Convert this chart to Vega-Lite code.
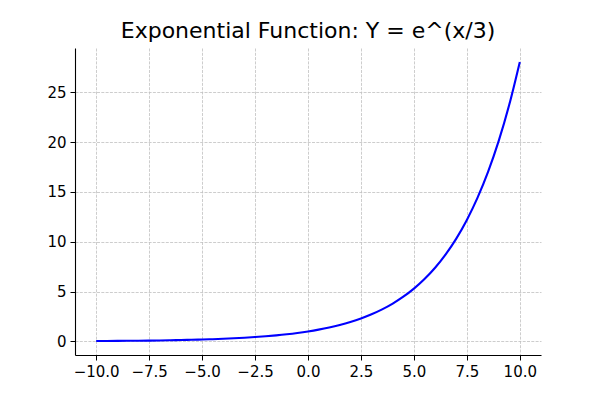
{
  "$schema": "https://vega.github.io/schema/vega-lite/v6.json",
  "width": 466,
  "height": 307,
  "autosize": "none",
  "padding": {"left": 75, "top": 48, "right": 59, "bottom": 45},
  "background": "white",
  "title": {
    "text": "Exponential Function: Y = e^(x/3)",
    "font": "DejaVu Sans",
    "fontSize": 22,
    "fontWeight": "normal",
    "color": "black",
    "offset": 5,
    "anchor": "middle"
  },
  "config": {
    "view": {"stroke": null},
    "axis": {
      "labelFont": "DejaVu Sans",
      "labelFontSize": 15,
      "labelColor": "black",
      "domainColor": "black",
      "domainWidth": 1.1,
      "tickColor": "black",
      "tickSize": 5,
      "tickWidth": 1,
      "labelPadding": 4,
      "gridColor": "#c0c0c0",
      "gridDash": [3, 1.3],
      "gridWidth": 0.8,
      "title": null
    }
  },
  "data": {
    "values": [
      {"x": -10, "y": 0.03567},
      {"x": -9.5, "y": 0.04214},
      {"x": -9, "y": 0.04979},
      {"x": -8.5, "y": 0.05881},
      {"x": -8, "y": 0.06948},
      {"x": -7.5, "y": 0.08208},
      {"x": -7, "y": 0.09697},
      {"x": -6.5, "y": 0.11456},
      {"x": -6, "y": 0.13534},
      {"x": -5.5, "y": 0.15988},
      {"x": -5, "y": 0.18888},
      {"x": -4.5, "y": 0.22313},
      {"x": -4, "y": 0.2636},
      {"x": -3.5, "y": 0.3114},
      {"x": -3, "y": 0.36788},
      {"x": -2.5, "y": 0.4346},
      {"x": -2, "y": 0.51342},
      {"x": -1.5, "y": 0.60653},
      {"x": -1, "y": 0.71653},
      {"x": -0.5, "y": 0.84648},
      {"x": 0, "y": 1},
      {"x": 0.5, "y": 1.18136},
      {"x": 1, "y": 1.39561},
      {"x": 1.5, "y": 1.64872},
      {"x": 2, "y": 1.94773},
      {"x": 2.5, "y": 2.30097},
      {"x": 3, "y": 2.71828},
      {"x": 3.5, "y": 3.21127},
      {"x": 4, "y": 3.79367},
      {"x": 4.5, "y": 4.48169},
      {"x": 5, "y": 5.29449},
      {"x": 5.5, "y": 6.2547},
      {"x": 6, "y": 7.38906},
      {"x": 6.5, "y": 8.72912},
      {"x": 7, "y": 10.3122},
      {"x": 7.5, "y": 12.18249},
      {"x": 8, "y": 14.39191},
      {"x": 8.5, "y": 17.00203},
      {"x": 9, "y": 20.08554},
      {"x": 9.5, "y": 23.72843},
      {"x": 10, "y": 28.03162}
    ]
  },
  "mark": {"type": "line", "color": "#0000ff", "strokeWidth": 2.1, "interpolate": "monotone", "clip": true},
  "encoding": {
    "x": {
      "field": "x",
      "type": "quantitative",
      "scale": {"domain": [-11, 11], "nice": false, "zero": false},
      "axis": {
        "values": [-10, -7.5, -5, -2.5, 0, 2.5, 5, 7.5, 10],
        "format": ".1f",
        "labelExpr": "replace(datum.label, '-', '\u2212')",
        "labelFlush": false,
        "grid": true
      }
    },
    "y": {
      "field": "y",
      "type": "quantitative",
      "scale": {"domain": [-1.364, 29.431], "nice": false, "zero": false},
      "axis": {
        "values": [0, 5, 10, 15, 20, 25],
        "format": "d",
        "grid": true
      }
    }
  }
}
